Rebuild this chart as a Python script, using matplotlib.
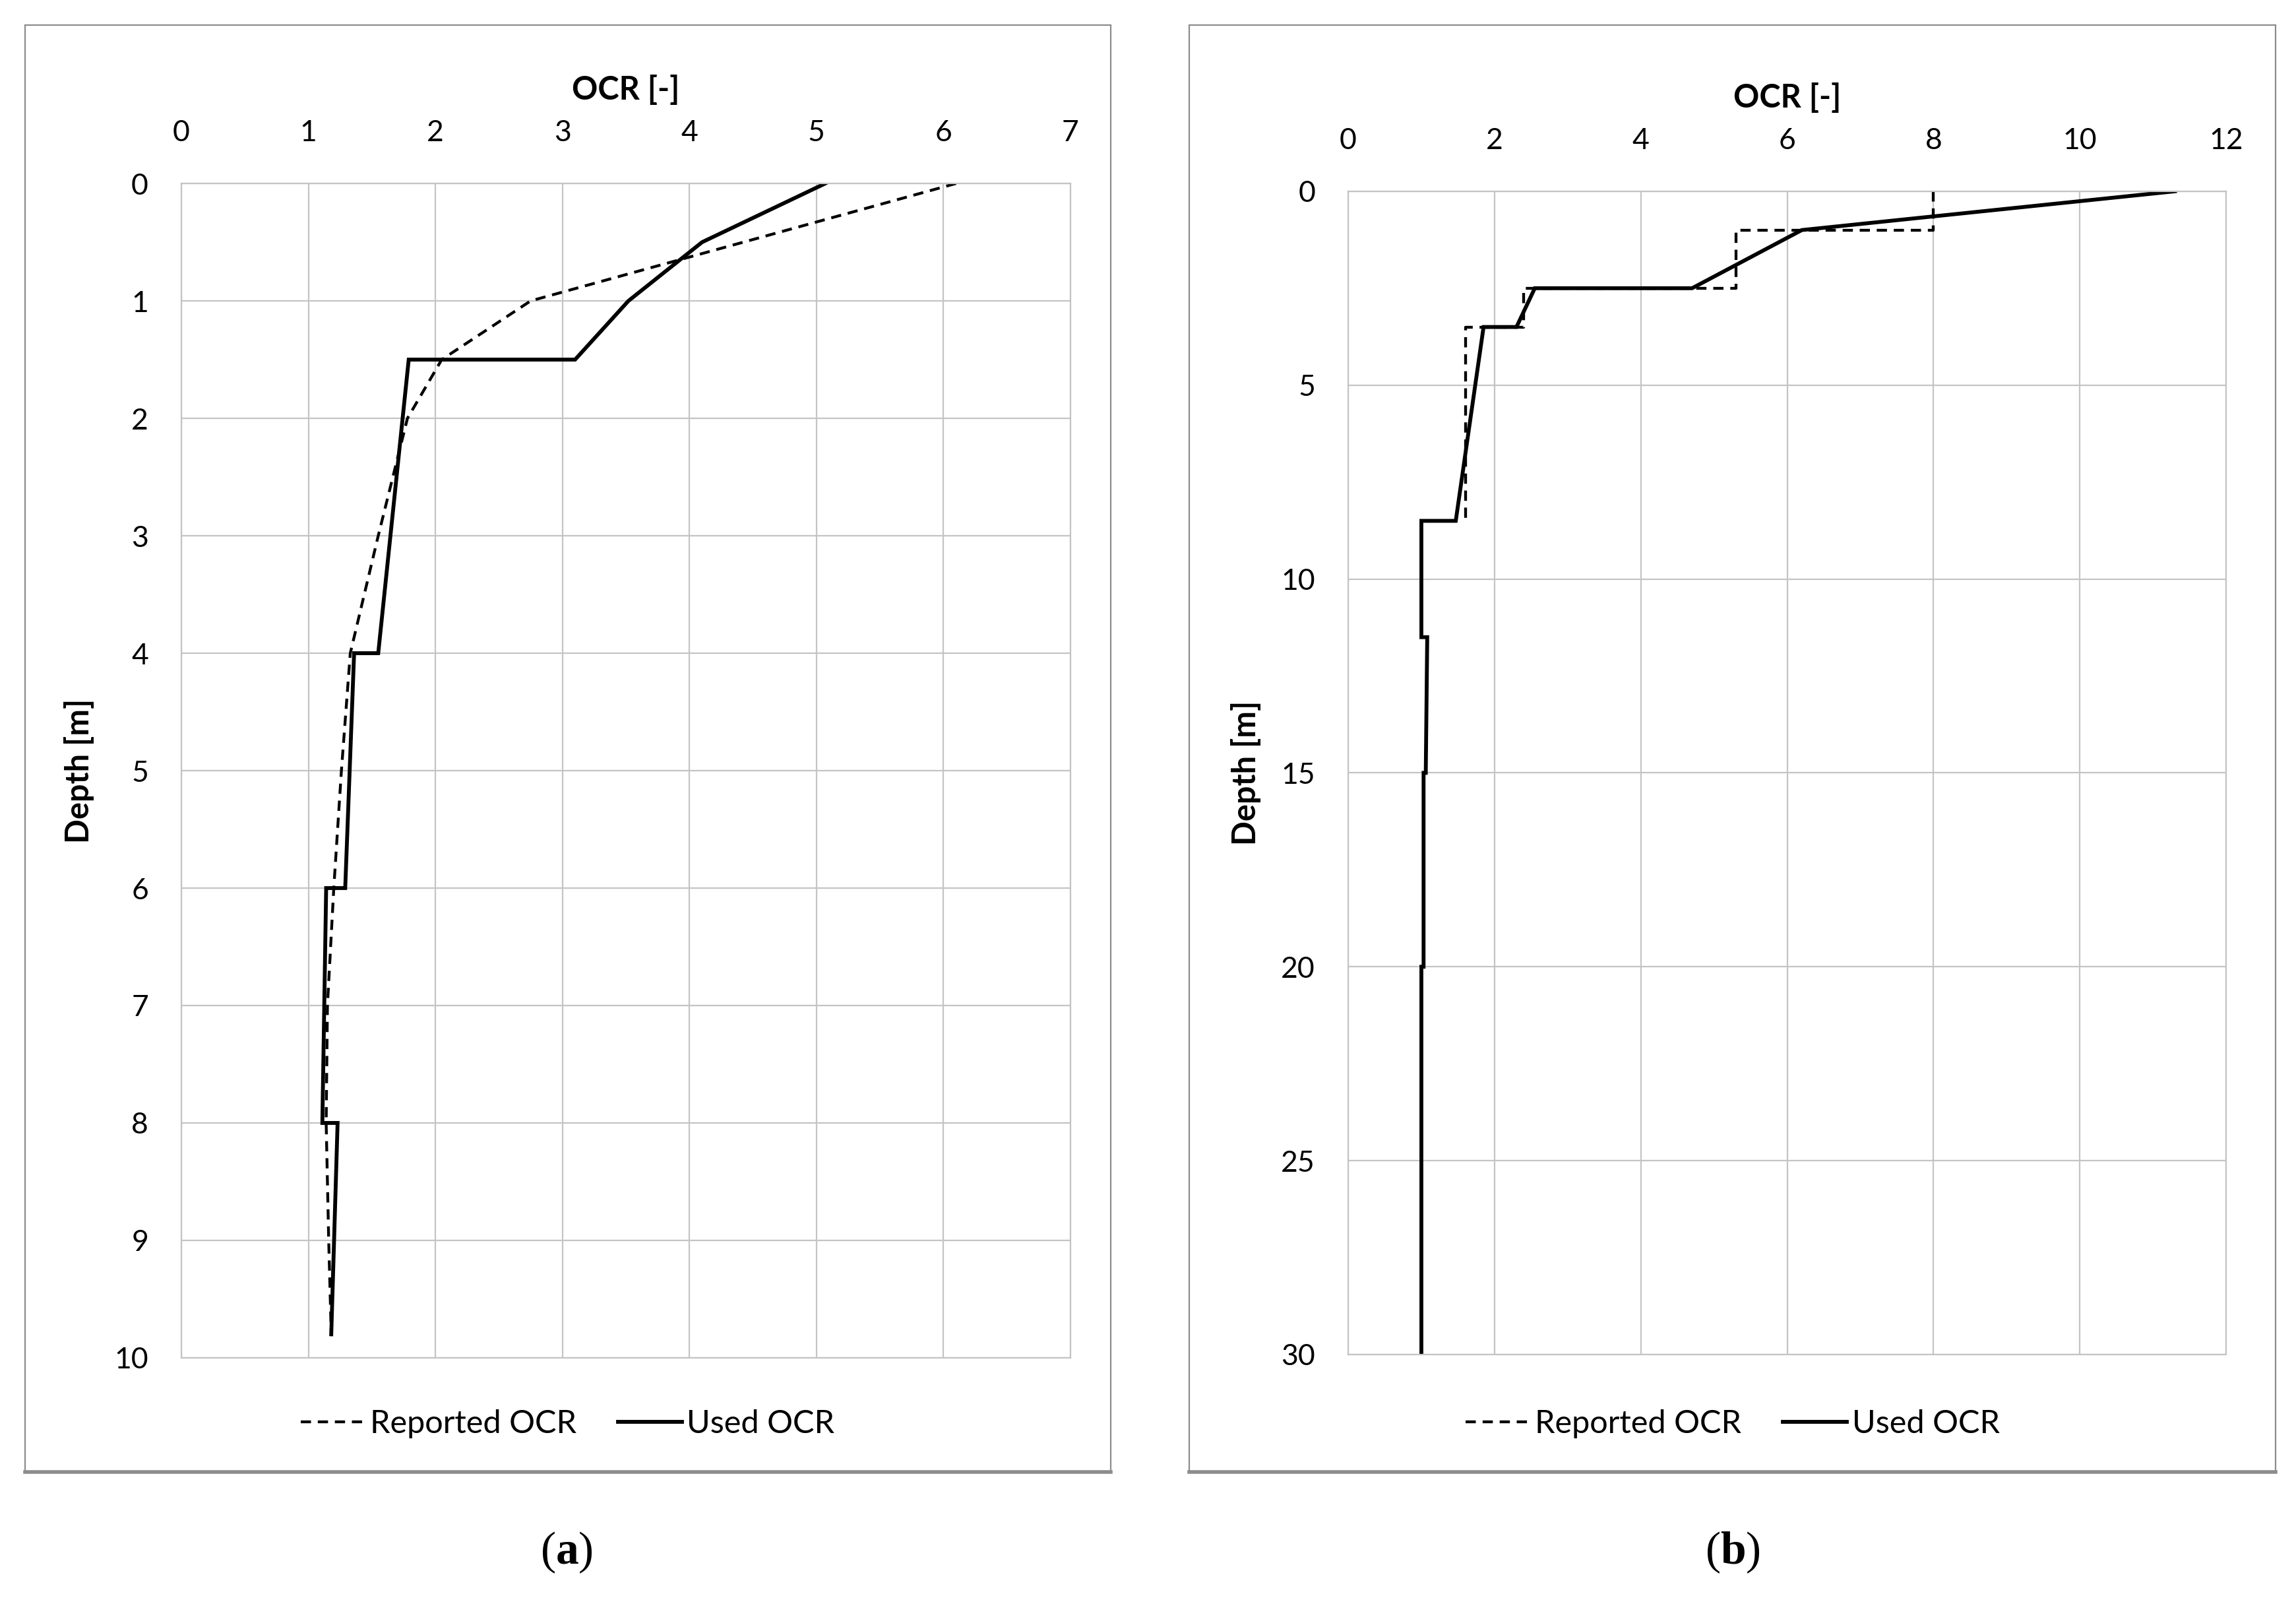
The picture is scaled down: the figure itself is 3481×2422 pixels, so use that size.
"""OCR profiles with depth: reported vs used values for two sites (a) and (b)."""
import matplotlib
matplotlib.use("Agg")
import matplotlib.pyplot as plt
from matplotlib.patches import Rectangle
from matplotlib.lines import Line2D

plt.rcParams["font.family"] = ["Lato", "DejaVu Sans"]
plt.rcParams["mathtext.fontset"] = "custom"
plt.rcParams["mathtext.rm"] = "Liberation Serif"
plt.rcParams["mathtext.bf"] = "Liberation Serif:bold"

# --- panel (a) ---
a_rep_ocr = [6.1, 2.75, 2.05, 1.78, 1.55, 1.33, 1.26, 1.20, 1.15, 1.14, 1.16, 1.18]
a_rep_depth = [0.0, 1.0, 1.5, 2.0, 3.0, 4.0, 5.0, 6.0, 7.0, 8.0, 9.0, 9.8]
a_used_ocr = [5.07, 4.10, 3.52, 3.10, 1.79, 1.55, 1.36, 1.29, 1.14, 1.11, 1.23, 1.18]
a_used_depth = [0.0, 0.5, 1.0, 1.5, 1.5, 4.0, 4.0, 6.0, 6.0, 8.0, 8.0, 9.8]
a_xticks = [0, 1, 2, 3, 4, 5, 6, 7]
a_yticks = [0, 1, 2, 3, 4, 5, 6, 7, 8, 9, 10]

# --- panel (b) ---
b_rep_ocr = [8.0, 8.0, 5.3, 5.3, 2.4, 2.4, 1.6, 1.6]
b_rep_depth = [0.0, 1.0, 1.0, 2.5, 2.5, 3.5, 3.5, 8.5]
b_used_ocr = [11.3, 6.2, 4.7, 2.55, 2.3, 1.85, 1.47, 1.0, 1.0, 1.08, 1.06, 1.03, 1.03, 1.0, 1.0]
b_used_depth = [0.0, 1.0, 2.5, 2.5, 3.5, 3.5, 8.5, 8.5, 11.5, 11.5, 15.0, 15.0, 20.0, 20.0, 30.0]
b_xticks = [0, 2, 4, 6, 8, 10, 12]
b_yticks = [0, 5, 10, 15, 20, 25, 30]

GRID = "#c4c4c4"
FS_TICK = 32
FS_LABEL = 35
FS_LEG = 35
DASH = (3.6, 2.4)


def draw_panel(ax, rep_x, rep_y, used_x, used_y, xticks, yticks):
    ax.plot(used_x, used_y, color="black", lw=4.2, solid_joinstyle="miter")
    ax.plot(rep_x, rep_y, color="black", lw=3.1, dashes=DASH, dash_capstyle="butt")
    ax.set_xlim(xticks[0], xticks[-1])
    ax.set_ylim(yticks[-1], yticks[0])
    ax.set_xticks(xticks)
    ax.set_yticks(yticks)
    ax.xaxis.tick_top()
    ax.xaxis.set_label_position("top")
    ax.tick_params(axis="x", length=0, labelsize=FS_TICK, pad=40)
    ax.tick_params(axis="y", length=0, labelsize=FS_TICK, pad=36)
    ax.grid(True, color=GRID, lw=1.6)
    ax.set_axisbelow(True)
    for s in ax.spines.values():
        s.set_color(GRID)
        s.set_linewidth(1.6)
    ax.set_xlabel("OCR [-]", fontsize=FS_LABEL, fontweight="bold", labelpad=22)
    ax.set_ylabel("Depth [m]", fontsize=FS_LABEL, fontweight="bold", labelpad=22)


fig = plt.figure(figsize=(34.81, 24.22), dpi=100)

# chart-area frames
for x0 in (0.0109, 0.518):
    fig.patches.append(Rectangle((x0, 0.0789), 0.4730, 0.9055, transform=fig.transFigure,
                                 fill=False, edgecolor="#8c8c8c", lw=1.6))
    fig.add_artist(Line2D([x0, x0 + 0.4730], [0.0789, 0.0789], transform=fig.transFigure,
                          color="#8c8c8c", lw=4))

ax_a = fig.add_axes([0.0790, 0.1503, 0.3872, 0.7349])
ax_b = fig.add_axes([0.5872, 0.1524, 0.3824, 0.7279])
draw_panel(ax_a, a_rep_ocr, a_rep_depth, a_used_ocr, a_used_depth, a_xticks, a_yticks)
draw_panel(ax_b, b_rep_ocr, b_rep_depth, b_used_ocr, b_used_depth, b_xticks, b_yticks)

for cx in (0.2473, 0.7547):
    handles = [Line2D([], [], color="black", lw=3.1, dashes=DASH),
               Line2D([], [], color="black", lw=4.2)]
    fig.legend(handles, ["Reported OCR", "Used OCR"], loc="center", bbox_to_anchor=(cx, 0.109),
               ncol=2, frameon=False, fontsize=FS_LEG, handlelength=2.0, handletextpad=0.15,
               columnspacing=1.3)

fig.text(0.2468, 0.0285, r"($\mathbf{a}$)", ha="center", va="center", fontsize=50,
         family="Liberation Serif")
fig.text(0.7547, 0.0285, r"($\mathbf{b}$)", ha="center", va="center", fontsize=50,
         family="Liberation Serif")

fig.savefig("out.png", dpi=100, facecolor="white")
